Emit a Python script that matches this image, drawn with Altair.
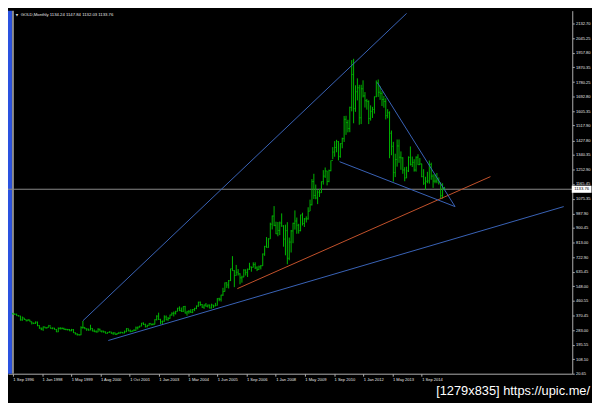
import altair as alt
import pandas as pd

# ---- data (monthly gold bars, Sep 1996 .. Sep 2015) ----
highs = [
    388, 385, 383, 374,
    370, 366, 357, 348, 350, 346, 335, 328, 336, 335, 313, 299,
    305, 304, 302, 315, 305, 300, 297, 290, 300, 302, 300, 298,
    293, 291, 290, 291, 290, 270, 264, 259, 307, 339, 302, 293,
    292, 316, 296, 288, 282, 295, 292, 281, 279, 275, 271, 276,
    273, 270, 269, 266, 273, 274, 272, 281, 295, 293, 287, 282,
    289, 305, 305, 310, 327, 330, 323, 316, 326, 324, 325, 349,
    373, 389, 352, 341, 373, 372, 363, 377, 391, 396, 400, 418,
    427, 420, 426, 430, 400, 405, 410, 411, 418, 432, 455, 456,
    441, 438, 447, 438, 437, 443, 436, 448, 476, 479, 497, 539,
    571, 573, 586, 654, 730, 645, 677, 652, 627, 612, 651, 650,
    655, 690, 667, 693, 693, 669, 673, 677, 746, 792, 845, 838,
    932, 975, 1032, 938, 936, 939, 988, 917, 920, 935, 842, 888,
    932, 1006, 963, 925, 980, 992, 960, 970, 1025, 1071, 1195, 1227,
    1162, 1128, 1135, 1180, 1249, 1265, 1245, 1252, 1307, 1388, 1424, 1432,
    1424, 1411, 1445, 1576, 1577, 1553, 1632, 1913, 1921, 1761, 1803, 1764,
    1764, 1791, 1720, 1679, 1670, 1640, 1631, 1693, 1790, 1796, 1755, 1726,
    1697, 1683, 1617, 1604, 1488, 1420, 1348, 1434, 1434, 1362, 1327, 1267,
    1270, 1332, 1392, 1331, 1315, 1332, 1345, 1322, 1288, 1255, 1209, 1239,
    1307, 1294, 1224, 1224, 1232, 1205, 1174, 1170, 1147.84,
]
lows = [
    378, 377, 370, 366,
    341, 340, 346, 337, 339, 334, 318, 320, 321, 307, 292, 283,
    279, 295, 293, 300, 292, 289, 287, 272, 272, 288, 289, 285,
    283, 281, 277, 277, 267, 257, 251, 251, 253, 292, 289, 279,
    280, 283, 277, 273, 270, 271, 276, 269, 268, 263, 263, 268,
    262, 255, 256, 255, 262, 264, 264, 265, 272, 277, 271, 272,
    278, 280, 287, 299, 307, 314, 300, 301, 311, 312, 313, 318,
    342, 345, 319, 319, 334, 343, 340, 352, 371, 366, 378, 397,
    398, 394, 393, 384, 371, 382, 387, 386, 398, 410, 424, 430,
    418, 412, 425, 420, 414, 414, 418, 428, 432, 458, 456, 490,
    516, 538, 535, 580, 642, 543, 613, 613, 560, 570, 603, 613,
    604, 647, 636, 662, 652, 640, 647, 650, 671, 732, 781, 781,
    834, 891, 911, 863, 850, 857, 907, 787, 735, 681, 705, 752,
    808, 890, 865, 866, 880, 915, 906, 933, 950, 1002, 1036, 1075,
    1073, 1044, 1087, 1112, 1162, 1202, 1157, 1176, 1242, 1315, 1330, 1357,
    1308, 1324, 1381, 1419, 1462, 1477, 1478, 1604, 1532, 1601, 1670, 1523,
    1527, 1688, 1627, 1614, 1527, 1548, 1564, 1590, 1689, 1691, 1673, 1636,
    1626, 1555, 1562, 1321, 1339, 1180, 1207, 1270, 1293, 1251, 1227, 1182,
    1201, 1238, 1277, 1268, 1240, 1240, 1281, 1280, 1206, 1160, 1131, 1170,
    1168, 1191, 1142, 1170, 1170, 1162, 1077, 1077, 1132.03,
]
closes = [
    379, 379, 371, 369,
    345, 358, 348, 340, 345, 334, 326, 325, 332, 311, 296, 290,
    303, 297, 301, 310, 293, 296, 288, 273, 293, 292, 294, 288,
    287, 287, 280, 286, 268, 261, 256, 255, 299, 300, 292, 290,
    284, 294, 278, 274, 272, 289, 277, 278, 273, 264, 270, 273,
    265, 267, 258, 264, 266, 270, 266, 273, 293, 279, 275, 279,
    282, 297, 302, 308, 326, 318, 304, 312, 324, 317, 319, 347,
    368, 348, 334, 337, 363, 346, 354, 375, 385, 386, 397, 416,
    402, 397, 426, 387, 394, 395, 391, 408, 415, 429, 452, 438,
    422, 435, 428, 435, 417, 435, 429, 433, 473, 470, 495, 517,
    569, 556, 582, 654, 643, 613, 633, 623, 599, 604, 646, 632,
    651, 665, 662, 679, 659, 650, 665, 672, 743, 789, 783, 834,
    923, 972, 916, 865, 885, 930, 912, 833, 884, 717, 815, 882,
    928, 942, 917, 884, 979, 927, 955, 955, 1001, 1040, 1180, 1096,
    1081, 1116, 1113, 1180, 1213, 1244, 1181, 1246, 1307, 1358, 1386, 1421,
    1332, 1409, 1439, 1556, 1536, 1500, 1628, 1826, 1620, 1722, 1746, 1565,
    1740, 1697, 1668, 1664, 1561, 1604, 1615, 1692, 1776, 1719, 1712, 1675,
    1663, 1578, 1595, 1472, 1393, 1234, 1313, 1395, 1327, 1323, 1250, 1202,
    1244, 1326, 1284, 1296, 1250, 1327, 1282, 1287, 1210, 1171, 1182, 1184,
    1283, 1213, 1183, 1183, 1190, 1172, 1095, 1134.24, 1133.76,
]
first_open = 383

x_labels = ["1 Sep 1996", "1 Jan 1998", "1 May 1999", "1 Aug 2000", "1 Oct 2001",
            "1 Jan 2003", "1 Mar 2004", "1 Jun 2005", "1 Sep 2006", "1 Jan 2008",
            "1 May 2009", "1 Sep 2010", "1 Jan 2012", "1 May 2013", "1 Sep 2014"]
y_ticks = [2132.70, 2045.25, 1957.80, 1870.35, 1780.25, 1692.80, 1605.35, 1517.90,
           1427.80, 1340.35, 1252.90, 1165.45, 1075.35, 987.90, 900.45, 813.00,
           722.90, 635.45, 548.00, 460.55, 370.45, 283.00, 195.55, 108.10, 20.65]

current_price = 1133.76
title_text = "GOLD,Monthly  1134.24 1147.84 1132.03 1133.76"
watermark = "[1279x835] https://upic.me/"

# trend lines: start/end (bar index, price)
tl_x1 = [37, 50.4, 118.6, 172.6, 192.6]
tl_y1 = [340, 221, 534, 1300, 1777]
tl_x2 = [208.0, 291.0, 252.3, 233.6, 233.6]
tl_y2 = [2195, 1029, 1210, 1029, 1029]
tl_col = ["#3a64b8", "#3a64b8", "#c4522c", "#3a64b8", "#3a64b8"]

# ---- tables ----
opens = [first_open] + closes[:-1]
bars = pd.DataFrame({"idx": list(range(len(closes))), "open": opens,
                     "high": highs, "low": lows, "close": closes})
lines = pd.DataFrame({"x1": tl_x1, "y1": tl_y1, "x2": tl_x2, "y2": tl_y2, "c": tl_col})

W, H = 572, 368
step = 15.426
xs = alt.Scale(domain=[-2.57, 295.52], nice=False, zero=False)
ys = alt.Scale(domain=[20.65, 2211.4], nice=False, zero=False)

GREEN = "#00b800"
FONT = "Liberation Sans"
label_arr = "[" + ",".join("'%s'" % s for s in x_labels) + "]"

x_axis = alt.Axis(values=[round(step * k, 3) for k in range(len(x_labels))],
                  labelExpr=label_arr + "[round(datum.value/%s)]" % step,
                  labelAlign="left", labelBaseline="top",
                  tickSize=2.5, labelPadding=1, labelFontSize=4.1, labelFont=FONT,
                  labelColor="#e6e6e6", domainColor="#b0b0b0", tickColor="#b0b0b0",
                  grid=False, title=None, labelOverlap=False, labelFlush=False)
y_axis = alt.Axis(orient="right", values=y_ticks, format=".2f", tickSize=2,
                  labelPadding=1.2, labelFontSize=4.1, labelFont=FONT,
                  labelColor="#e6e6e6", domainColor="#b0b0b0", tickColor="#b0b0b0",
                  grid=False, title=None, labelOverlap=False, labelFlush=False)

base = alt.Chart(bars)

hl = base.mark_rule(color=GREEN, strokeWidth=1).encode(
    x=alt.X("idx:Q", scale=xs, axis=x_axis),
    y=alt.Y("low:Q", scale=ys, axis=y_axis),
    y2="high:Q")
op = base.transform_calculate(xo="datum.idx - 0.4").mark_rule(
    color=GREEN, strokeWidth=1).encode(
    x=alt.X("xo:Q", scale=xs, axis=x_axis), x2="idx:Q",
    y=alt.Y("open:Q", scale=ys, axis=y_axis))
cl = base.transform_calculate(xc="datum.idx + 0.4").mark_rule(
    color=GREEN, strokeWidth=1).encode(
    x=alt.X("idx:Q", scale=xs, axis=x_axis), x2="xc:Q",
    y=alt.Y("close:Q", scale=ys, axis=y_axis))

price_df = pd.DataFrame({"p": [current_price], "t": ["%.2f" % current_price]})
hline = alt.Chart(price_df).mark_rule(color="#8a8a8a", strokeWidth=1).encode(
    y=alt.Y("p:Q", scale=ys, axis=y_axis))
pbox = alt.Chart(price_df).mark_point(
    shape="M-1,-0.36H1V0.36H-1Z", filled=True, color="white", opacity=1,
    size=400, strokeWidth=0, clip=False).encode(
    x=alt.value(581.5), y=alt.Y("p:Q", scale=ys, axis=y_axis))
ptxt = alt.Chart(price_df).mark_text(
    color="black", fontSize=4.3, font=FONT, align="center", baseline="middle",
    clip=False).encode(
    x=alt.value(581.5), y=alt.Y("p:Q", scale=ys, axis=y_axis), text="t:N")

trend = alt.Chart(lines).mark_rule(strokeWidth=1, clip=True).encode(
    x=alt.X("x1:Q", scale=xs, axis=x_axis), x2="x2:Q",
    y=alt.Y("y1:Q", scale=ys, axis=y_axis), y2="y2:Q",
    color=alt.Color("c:N", scale=None))

blue_bar = alt.Chart(pd.DataFrame({"a": [0]})).mark_rect(color="#2a52e0").encode(
    x=alt.value(0), x2=alt.value(4), y=alt.value(0), y2=alt.value(H))
gray_bar = alt.Chart(pd.DataFrame({"a": [0]})).mark_rect(color="#8c8c8c").encode(
    x=alt.value(4), x2=alt.value(6), y=alt.value(0), y2=alt.value(H))

tri = alt.Chart(pd.DataFrame({"t": ["\u25bc"]})).mark_text(
    color="#dddddd", fontSize=3.2, font="DejaVu Sans", align="center",
    baseline="middle").encode(x=alt.value(9), y=alt.value(4.8), text="t:N")
title = alt.Chart(pd.DataFrame({"t": [title_text]})).mark_text(
    color="#e6e6e6", fontSize=4.3, font=FONT, align="left",
    baseline="middle").encode(x=alt.value(12.8), y=alt.value(4.8), text="t:N")
wm = alt.Chart(pd.DataFrame({"t": [watermark]})).mark_text(
    color="white", fontSize=13, font=FONT, align="right", baseline="alphabetic",
    clip=False).encode(x=alt.value(590), y=alt.value(390), text="t:N")

chart = alt.layer(
    blue_bar, gray_bar, hline, hl, op, cl, trend, pbox, ptxt, tri, title, wm
).properties(
    width=W, height=H, background="black",
    autosize=alt.AutoSizeParams(type="none"),
    padding={"left": 0, "top": 0, "right": 20, "bottom": 27},
).configure_view(strokeWidth=0)

chart.save("out.html", embed_options={"renderer": "svg", "actions": False})
